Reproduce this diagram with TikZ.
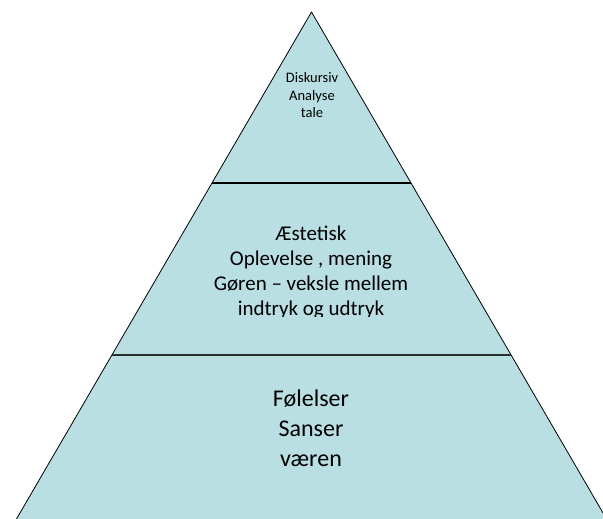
\documentclass[tikz,border=0pt]{standalone}
\usepackage{fontspec}
\setmainfont{Carlito}
\definecolor{pyrfill}{HTML}{B9DFE3}
\definecolor{divline}{HTML}{263031}
\begin{document}
\begin{tikzpicture}[x=1pt,y=-1pt,
  edge/.style={draw=black, line width=0.8pt, line join=round},
  divider/.style={line width=2pt},
  toptxt/.style={anchor=base, inner sep=0pt, font=\fontsize{14.5}{17.5}\selectfont},
  midtxt/.style={anchor=base, inner sep=0pt, font=\fontsize{21}{25}\selectfont},
  bottxt/.style={anchor=base, inner sep=0pt, font=\fontsize{24}{29}\selectfont}]
\useasboundingbox (0,0) rectangle (603,519);
\clip (0,0) rectangle (603,519);
\coordinate (apex) at (311.5,12);
\coordinate (bl) at (8.9,532);
\coordinate (br) at (614.1,532);
\coordinate (d1l) at (212,183);
\coordinate (d1r) at (411,183);
\coordinate (d2l) at (111.9,355);
\coordinate (d2r) at (511.1,355);
\filldraw[fill=pyrfill, edge] (apex) -- (bl) -- (br) -- cycle;
\draw[divider, draw=black] (d1l) -- (d1r);
\draw[divider, draw=divline] (d2l) -- (d2r);
% top tier
\node[toptxt] (t1) at (312,82.7) {Diskursiv};
\node[toptxt] (t2) at (312,100.2) {Analyse};
\node[toptxt] (t3) at (312,117.7) {tale};
% middle tier (text box overflows and is cut)
\begin{scope}
\clip (100,200) rectangle (520,316.4);
\node[midtxt] (m1) at (311,240.7) {Æstetisk};
\node[midtxt] (m2) at (311,265.7) {Oplevelse , mening};
\node[midtxt] (m3) at (311,290.7) {Gøren – veksle mellem};
\node[midtxt] (m4) at (311,315.7) {indtryk og udtryk};
\end{scope}
% bottom tier
\node[bottxt] (b1) at (311,406.7) {Følelser};
\node[bottxt] (b2) at (311,436.7) {Sanser};
\node[bottxt] (b3) at (311,466.7) {væren};
\end{tikzpicture}
\end{document}
